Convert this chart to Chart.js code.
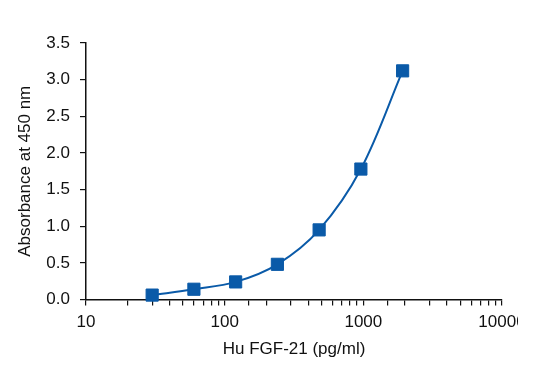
<!DOCTYPE html>
<html>
<head>
<meta charset="utf-8">
<script src="https://cdn.jsdelivr.net/npm/chart.js@4"></script>
<style>
body{margin:0;background:#fff;}
#wrap{width:518px;height:381px;overflow:hidden;}
</style>
</head>
<body>
<div id="wrap"><canvas id="chart" width="538" height="381"></canvas></div>
<script>
// standard curve values
const conc = [30, 60, 120, 240, 480, 960, 1920];
const absorbance = [0.06, 0.14, 0.24, 0.48, 0.95, 1.78, 3.12];
const xLabels = [10, 100, 1000, 10000];
const yMin = 0, yMax = 3.5, yStep = 0.5;

const blue = "#0a5aa8";
const ink = "#111";

const points = conc.map((c, i) => ({x: c, y: absorbance[i]}));

const ctx = document.getElementById("chart").getContext("2d");

new Chart(ctx, {
type: "line",
data: {
datasets: [{
label: "Hu FGF-21",
data: points,
borderColor: blue,
backgroundColor: blue,
borderWidth: 2,
tension: 0.35,
pointStyle: "rect",
pointRadius: 8.6,
pointBorderWidth: 1,
pointBorderColor: blue,
pointBackgroundColor: blue,
clip: false
}]
},
options: {
responsive: false,
animation: false,
layout: {padding: {left: 0, right: 36, top: 43, bottom: 0}},
plugins: {legend: {display: false}, tooltip: {enabled: false}},
scales: {
x: {
type: "logarithmic",
min: 10,
max: 10000,
afterFit: s => { s.height = 81.5; },
grid: {drawOnChartArea: false, drawTicks: true, tickLength: 6, color: ink, lineWidth: 1.2},
border: {display: true, color: ink, width: 1.5},
ticks: {
autoSkip: false,
maxRotation: 0,
padding: 7,
color: ink,
font: {family: "Liberation Sans", size: 17},
callback: v => xLabels.includes(v) ? String(v) : ""
},
title: {
display: true,
text: "Hu FGF-21 (pg/ml)",
color: ink,
font: {family: "Liberation Sans", size: 17},
padding: {top: 0, bottom: 21}
}
},
y: {
min: yMin,
max: yMax,
afterFit: s => { s.width = 86; },
grid: {drawOnChartArea: false, drawTicks: true, tickLength: 6, color: ink, lineWidth: 1.2},
border: {display: true, color: ink, width: 1.5},
ticks: {
stepSize: yStep,
padding: 10,
color: ink,
font: {family: "Liberation Sans", size: 17},
callback: v => Number(v).toFixed(1)
},
title: {
display: true,
text: "Absorbance at 450 nm",
color: ink,
font: {family: "Liberation Sans", size: 17},
padding: {top: 15, bottom: 0}
}
}
}
}
});
</script>
</body>
</html>
